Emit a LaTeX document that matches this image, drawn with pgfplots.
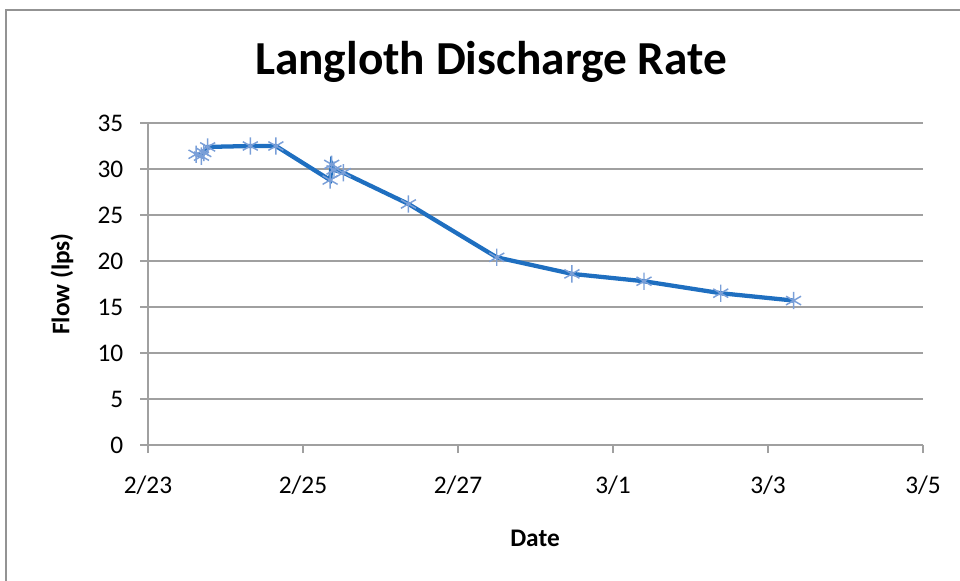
\documentclass[border=0pt]{standalone}
\usepackage{fontspec}
\setmainfont{Carlito}
\usepackage{pgfplots}
\pgfplotsset{compat=1.18}
\definecolor{lineblue}{HTML}{1F6FC0}
\definecolor{markblue}{HTML}{7A9FD8}
\definecolor{gridgray}{HTML}{A0A0A0}
\begin{document}
\begin{tikzpicture}
\useasboundingbox (0,0) rectangle (720pt,-435.75pt);
\draw[color=gray!85, line width=1.5pt] (4.5pt,-600pt) -- (4.5pt,-7.5pt) -- (800pt,-7.5pt);
\node[font=\fontsize{35.5}{40}\selectfont\bfseries] at (368.25pt,-46.5pt) {Langloth Discharge Rate};
\node[font=\fontsize{19}{22}\selectfont\bfseries] at (401.25pt,-403.5pt) {Date};
\node[font=\fontsize{19}{22}\selectfont\bfseries, rotate=90] at (46.5pt,-213pt) {Flow (lps)};
\begin{axis}[
  at={(111pt,-333.75pt)}, anchor=south west,
  scale only axis, width=581.25pt, height=241.5pt,
  xmin=0, xmax=10, ymin=0, ymax=35,
  xtick={0,2,...,10},
  xticklabels={2/23,2/25,2/27,3/1,3/3,3/5},
  ytick={0,5,...,35},
  axis x line*=bottom, axis y line*=left,
  ymajorgrids,
  grid style={gridgray, line width=0.9pt},
  axis line style={gridgray, line width=0.9pt},
  tick style={gridgray, line width=0.9pt},
  tick align=outside, major tick length=6pt,
  ticklabel style={font=\fontsize{19}{22}\selectfont},
  xticklabel style={yshift=-14pt},
  yticklabel style={xshift=-9pt},
  /pgf/number format/assume math mode=true,
  clip=false,
]
\addplot[color=lineblue, line width=3.2pt, mark=asterisk, mark size=6.5pt,
  mark options={markblue, line width=1.1pt}] coordinates {
(0.62,31.6) (0.69,31.4) (0.72,31.8) (0.77,32.4) (1.32,32.5) (1.65,32.5)
(2.35,28.8) (2.37,30.5) (2.40,29.9) (2.52,29.6) (3.36,26.2) (4.50,20.4)
(5.47,18.6) (6.40,17.8) (7.39,16.5) (8.33,15.7)
};
\end{axis}
\end{tikzpicture}
\end{document}
